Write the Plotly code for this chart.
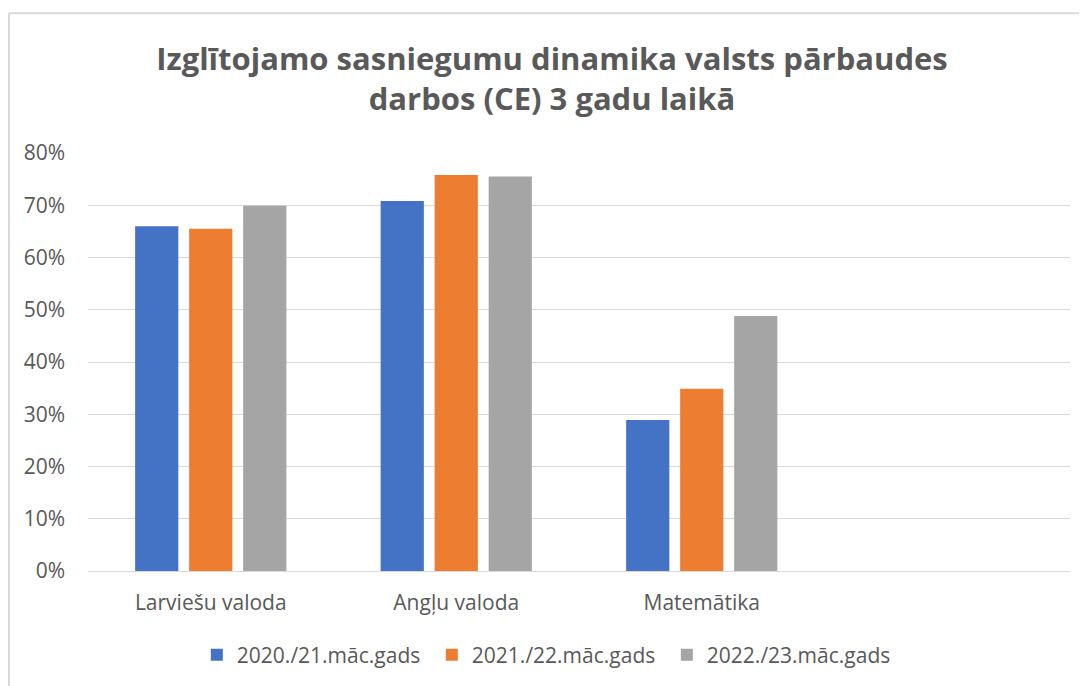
import plotly.graph_objects as go

categories = ["Larviešu valoda", "Angļu valoda", "Matemātika"]
series_names = ["2020./21.māc.gads", "2021./22.māc.gads", "2022./23.māc.gads"]
values_2020 = [0.660, 0.708, 0.289]
values_2021 = [0.655, 0.758, 0.349]
values_2022 = [0.699, 0.755, 0.488]
colors = ["#4472C4", "#ED7D31", "#A5A5A5"]
y_ticks = [0, 0.1, 0.2, 0.3, 0.4, 0.5, 0.6, 0.7, 0.8]
title_text = "Izglītojamo sasniegumu dinamika valsts pārbaudes<br>darbos (CE) 3 gadu laikā"

FONT = "Open Sans"
TXT = "#595959"
OFF = 8  # default body margin of the page

fig = go.Figure()
for name, vals, col in zip(series_names, [values_2020, values_2021, values_2022], colors):
    fig.add_trace(go.Bar(x=categories, y=vals, name=name, marker=dict(color=col, line=dict(width=0))))

W, H = 1087 - OFF, 686 - OFF
L, R, T, B = 88 - OFF, 17, 153 - OFF, 114
pw, ph = W - L - R, H - T - B

def px2paper_x(px):
    return (px - OFF - L) / pw

def px2paper_y(py):
    return (H - B - (py - OFF)) / ph

fig.update_layout(
    width=W, height=H,
    margin=dict(l=L, r=R, t=T, b=B),
    paper_bgcolor="white", plot_bgcolor="white",
    barmode="group", bargap=0.34, bargroupgap=0.2,
    font=dict(family=FONT, color=TXT, size=21),
    title=dict(text=title_text, x=(552 - OFF) / W, xref="container", xanchor="center",
               y=1 - 62 / H, yref="container", yanchor="top",
               font=dict(family=FONT, size=31, color=TXT, weight="bold")),
    xaxis=dict(type="category", range=[-0.5, 3.5], showgrid=False, showline=False,
               zeroline=False, ticks="", tickfont=dict(size=21, color=TXT),
               ticklabelstandoff=17),
    yaxis=dict(range=[0, 0.8], tickvals=y_ticks, tickformat=".0%", showgrid=True,
               gridcolor="#D9D9D9", gridwidth=1, zeroline=True, zerolinecolor="#D9D9D9",
               zerolinewidth=1, showline=False, ticks="", tickfont=dict(size=21, color=TXT),
               ticklabelstandoff=22),
    legend=dict(orientation="h", x=0.4698, xanchor="center", y=px2paper_y(655), yanchor="middle",
                font=dict(size=21, color=TXT), itemwidth=30, traceorder="normal",
                entrywidth=190, entrywidthmode="pixels"),
    showlegend=True,
    shapes=[
        dict(type="line", xref="paper", yref="paper", x0=px2paper_x(OFF + 1), x1=px2paper_x(1100),
             y0=px2paper_y(13), y1=px2paper_y(13), line=dict(color="#D9D9D9", width=2)),
        dict(type="line", xref="paper", yref="paper", x0=px2paper_x(OFF + 1), x1=px2paper_x(OFF + 1),
             y0=px2paper_y(13), y1=px2paper_y(700), line=dict(color="#D9D9D9", width=2)),
    ],
)

fig.write_html("out.html")
